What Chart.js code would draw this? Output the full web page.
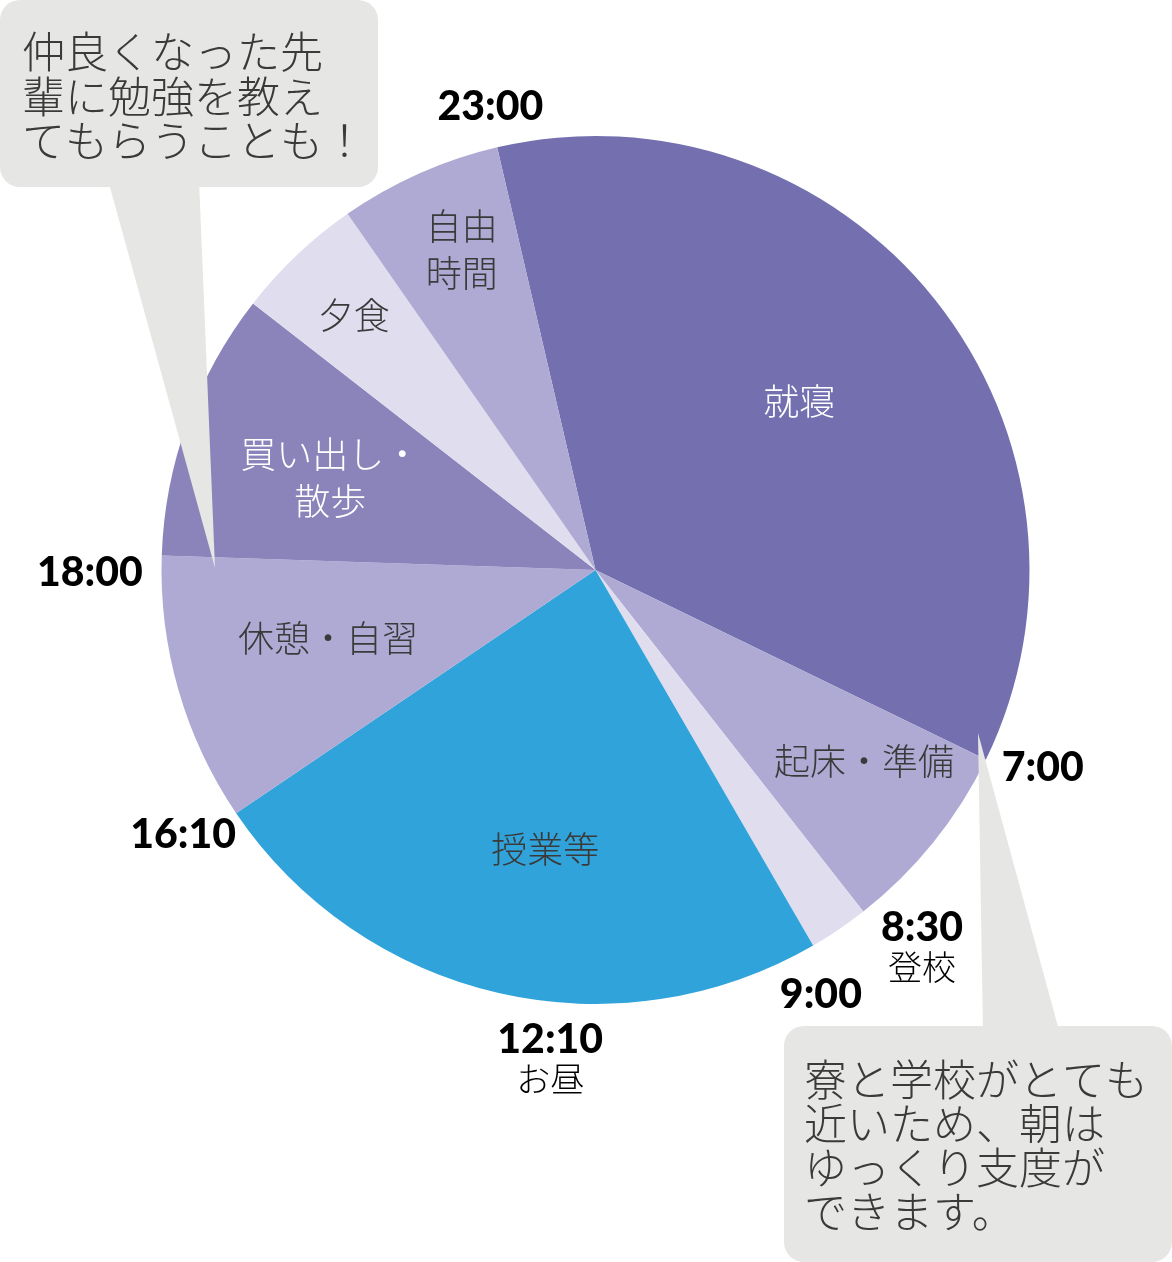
<!DOCTYPE html>
<html>
<head>
<meta charset="utf-8">
<title>一日のスケジュール</title>
<style>
  html, body { margin: 0; padding: 0; background: #fff; }
  #wrap { width: 1172px; height: 1262px; }
</style>
</head>
<body>
<div id="wrap"><canvas id="day" width="1172" height="1262"></canvas></div>
<script src="https://cdn.jsdelivr.net/npm/chart.js@4/dist/chart.umd.min.js"></script>
<script>
// slices, clockwise from 23:00; share = size of each slice in degrees
const activities = ["就寝", "起床・準備", "登校", "授業等", "休憩・自習", "買い出し・散歩", "夕食", "自由時間"];
const share = [129, 26, 8, 86, 36, 36, 17.25, 21.75];
const times = ["7:00", "8:30", "9:00", "12:10", "16:10", "18:00", "23:00"];
const timeNotes = ["", "登校", "", "お昼", "", "", ""];
const noteTop = ["仲良くなった先", "輩に勉強を教え", "てもらうことも！"];
const noteBottom = ["寮と学校がとても", "近いため、朝は", "ゆっくり支度が", "できます。"];

const sliceColors = ["#7470b0", "#aeaad4", "#e0ddef", "#30a3da", "#aeaad4", "#8a84ba", "#e0ddef", "#aeaad4"];
const DARK = "#3a3a3a";
const JP = '"Noto Sans CJK JP", "Noto Sans", sans-serif';

// how the slice names are shown (line breaks, colour, where inside the slice)
const sliceText = [["就寝"], ["起床・準備"], [], ["授業等"], ["休憩・自習"], ["買い出し・", "散歩"], ["夕食"], ["自由", "時間"]];
const sliceTextColor = ["#fff", DARK, DARK, DARK, DARK, "#fff", DARK, DARK];
const sliceTextR = [0.61, 0.76, 0, 0.655, 0.636, 0.647, 0.81, 0.80];
const sliceTextNudge = [-1.1, -3.4, 0, -2.7, 1.8, -0.8, 0, 1.3];

// where the time marks sit round the pie: clock angle (deg) and distance in radii
const timePos = [[113.9, 1.127], [137.6, 1.116], [152.05, 1.108], [185.5, 1.088], [237.3, 1.129], [269.7, 1.165], [347.2, 1.094]];

function bubble(ctx, box, tail) {
  ctx.fillStyle = "#e6e6e4";
  ctx.beginPath();
  ctx.roundRect(box[0], box[1], box[2], box[3], 20);
  ctx.fill();
  ctx.beginPath();
  ctx.moveTo(tail[0][0], tail[0][1]);
  ctx.lineTo(tail[1][0], tail[1][1]);
  ctx.lineTo(tail[2][0], tail[2][1]);
  ctx.closePath();
  ctx.fill();
}

const overlay = {
  id: "overlay",
  afterDatasetsDraw(chart) {
    const ctx = chart.ctx;
    const arcs = chart.getDatasetMeta(0).data;
    const cx = arcs[0].x, cy = arcs[0].y, R = arcs[0].outerRadius;
    ctx.save();
    ctx.textAlign = "center";
    ctx.textBaseline = "middle";

    // names inside the slices
    ctx.font = "300 36px " + JP;
    arcs.forEach((arc, i) => {
      const lines = sliceText[i];
      if (!lines.length) return;
      const a = (arc.startAngle + arc.endAngle) / 2 + sliceTextNudge[i] * Math.PI / 180;
      const x = cx + R * sliceTextR[i] * Math.cos(a);
      const y = cy + R * sliceTextR[i] * Math.sin(a);
      ctx.fillStyle = sliceTextColor[i];
      lines.forEach((t, k) => ctx.fillText(t, x, y + (k - (lines.length - 1) / 2) * 47));
    });

    // times round the outside
    times.forEach((t, i) => {
      const a = (timePos[i][0] - 90) * Math.PI / 180;
      const x = cx + R * timePos[i][1] * Math.cos(a);
      const y = cy + R * timePos[i][1] * Math.sin(a);
      ctx.fillStyle = "#000";
      ctx.font = "900 41px Lato, sans-serif";
      ctx.fillText(t, x, y);
      if (timeNotes[i]) {
        ctx.font = "300 34px " + JP;
        ctx.fillText(timeNotes[i], x, y + 39);
      }
    });

    // speech bubbles
    bubble(ctx, [0, 0, 378, 187], [[108, 180], [199, 180], [215, 568]]);
    bubble(ctx, [784, 1026, 388, 236], [[983, 1034], [1060, 1034], [978, 733]]);
    ctx.textAlign = "left";
    ctx.fillStyle = DARK;
    ctx.font = "300 43px " + JP;
    noteTop.forEach((t, k) => ctx.fillText(t, 22, 52 + k * 44.5));
    noteBottom.forEach((t, k) => ctx.fillText(t, 804, 1080 + k * 44));
    ctx.restore();
  }
};

new Chart("day", {
  type: "pie",
  data: {
    labels: activities,
    datasets: [{
      data: share,
      backgroundColor: sliceColors,
      borderWidth: 0,
      hoverOffset: 0
    }]
  },
  options: {
    responsive: false,
    animation: false,
    events: [],
    devicePixelRatio: 1,
    rotation: -13.1,
    layout: { padding: { left: 161, right: 142, top: 136, bottom: 258 } },
    plugins: { legend: { display: false }, tooltip: { enabled: false } }
  },
  plugins: [overlay]
});
</script>
</body>
</html>
